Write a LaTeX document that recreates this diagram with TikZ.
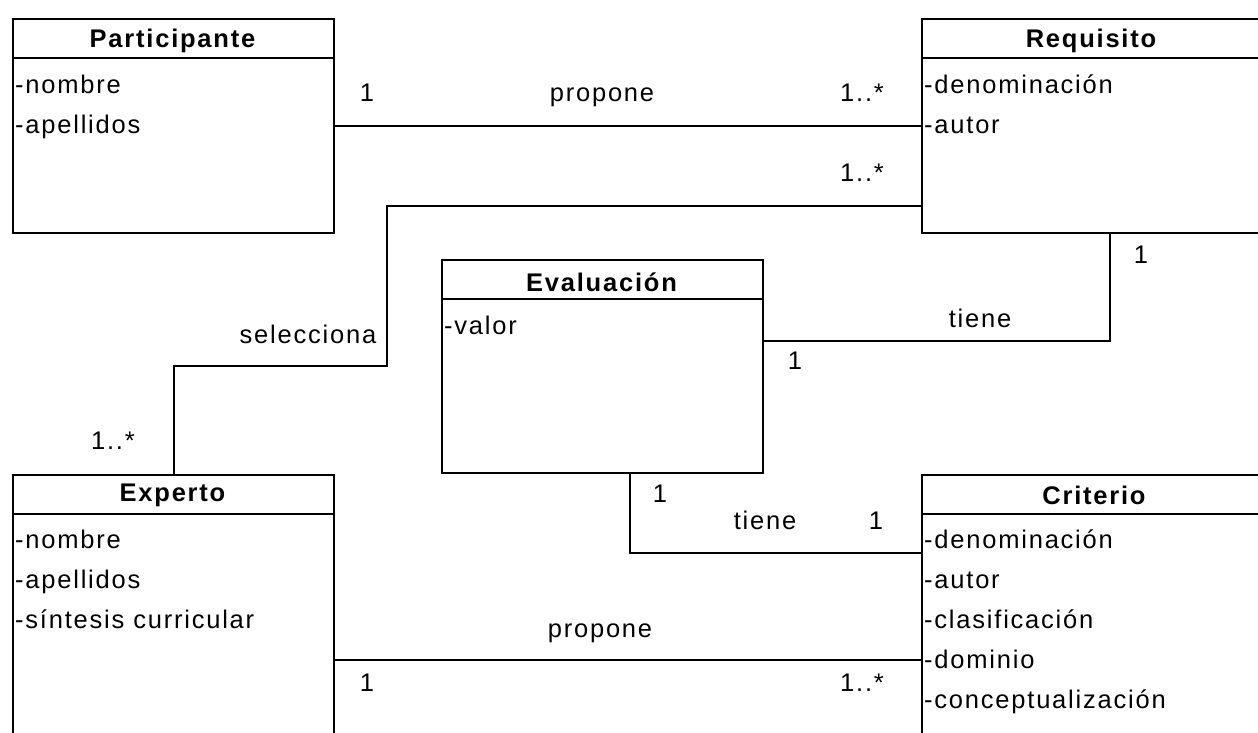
\documentclass[tikz,border=0pt]{standalone}
\usepackage{fontspec}
\setmainfont{Liberation Sans}[LetterSpace=7]
\usetikzlibrary{positioning}

\tikzset{
	clase/.style={draw, line width=2pt, anchor=north west, inner sep=0pt},
	titulo/.style={font=\fontsize{25.5}{29}\selectfont\bfseries, inner sep=0pt},
	atrib/.style={anchor=west, inner sep=0pt, text height=20pt, text depth=3pt},
	rel/.style={line width=2pt},
	mult/.style={inner sep=0pt, text height=18pt, text depth=0pt}
}

\begin{document}
\begin{tikzpicture}[x=1pt, y=-1pt, font=\fontsize{25.5}{29}\selectfont]
	\useasboundingbox (0,0) rectangle (1258,733);
	\clip (0,0) rectangle (1258,733);
	%clases
	\node[clase, minimum width=321pt, minimum height=214pt] (part) at (12,18) {};
	\node[clase, minimum width=340pt, minimum height=214pt] (req) at (921,18) {};
	\node[clase, minimum width=321pt, minimum height=213pt] (eval) at (441,259) {};
	\node[clase, minimum width=321pt, minimum height=300pt] (exp) at (12,474) {};
	\node[clase, minimum width=340pt, minimum height=300pt] (crit) at (921,474) {};
	%cabeceras
	\foreach \c in {part,req,eval,exp,crit}
	\draw[rel] ([yshift=-40pt]\c.north west) -- ([yshift=-40pt]\c.north east);
	\node[titulo] (part-n) at (172.5,41) {Participante};
	\node[titulo] (req-n) at (1091,41) {Requisito};
	\node[titulo] (eval-n) at (601.5,282) {Evaluación};
	\node[titulo] (exp-n) at (172.5,495) {Experto};
	\node[titulo] (crit-n) at (1094,495) {Criterio};
	%atributos
	\foreach \a [count=\i] in {nombre,apellidos}
	\node[atrib] (part-a\i) at (15,45+40*\i) {-\a};
	\foreach \a [count=\i] in {denominación,autor}
	\node[atrib] (req-a\i) at (924,45+40*\i) {-\a};
	\node[atrib] (eval-a1) at (444,326) {-valor};
	\foreach \a [count=\i] in {nombre,apellidos,síntesis curricular}
	\node[atrib] (exp-a\i) at (15,500+40*\i) {-\a};
	\foreach \a [count=\i] in {denominación,autor,clasificación,dominio,conceptualización}
	\node[atrib] (crit-a\i) at (924,500+40*\i) {-\a};
	%relaciones
	\coordinate (sel) at (387,366);
	\draw[rel] ([yshift=-108pt]part.north east) -- ([yshift=-108pt]req.north west);
	\draw[rel] ([yshift=-188pt]req.north west) -| (sel) -| (exp.north);
	\draw[rel] ([xshift=18pt]req.south) |- ([yshift=26pt]eval.east);
	\draw[rel] ([xshift=27pt]eval.south) |- ([yshift=-79pt]crit.north west);
	\draw[rel] ([yshift=-186pt]exp.north east) -- ([yshift=-186pt]crit.north west);
	%multiplicidades
	\node[mult] (m1) at (367,93) {1};
	\node[mult] (l1) at (602,93) {propone};
	\node[mult] (m2) at (862,93) {1..*};
	\node[mult] (m3) at (862,173) {1..*};
	\node[mult] (l2) at (308,334) {selecciona};
	\node[mult] (m4) at (113,440) {1..*};
	\node[mult] (m5) at (1141,254) {1};
	\node[mult] (l3) at (980,318) {tiene};
	\node[mult] (m6) at (795,360) {1};
	\node[mult] (m7) at (660,493) {1};
	\node[mult] (l4) at (765,520) {tiene};
	\node[mult] (m8) at (876,520) {1};
	\node[mult] (l5) at (600,628) {propone};
	\node[mult] (m9) at (367,682) {1};
	\node[mult] (m10) at (862,682) {1..*};
\end{tikzpicture}
\end{document}
